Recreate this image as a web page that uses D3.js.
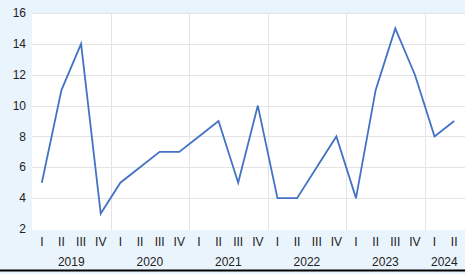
<!DOCTYPE html>
<html>
<head>
<meta charset="utf-8">
<script src="https://cdn.jsdelivr.net/npm/d3@7"></script>
<style>
	html, body { margin: 0; padding: 0; background: #eaf4fd; }
	svg { display: block; font-family: "Liberation Sans", Arial, sans-serif; }
	.grid line { stroke: #e4e4e4; stroke-width: 1; shape-rendering: crispEdges; }
	.lbl { fill: #222; font-size: 12px; }
</style>
</head>
<body>
<div id="chart"></div>
<script>
// data
const years = ["2019", "2020", "2021", "2022", "2023", "2024"];
const quarters = ["I", "II", "III", "IV"];
const values = [5, 11, 14, 3, 5, 6, 7, 7, 8, 9, 5, 10, 4, 4, 6, 8, 4, 11, 15, 12, 8, 9];
const yTicks = [2, 4, 6, 8, 10, 12, 14, 16];

// one category per quarter, 2024 only has two
const cats = values.map((v, i) => ({
	key: i,
	year: years[Math.floor(i / 4)],
	q: quarters[i % 4],
	v: v
}));

const W = 465, H = 274;
const plot = {left: 32, right: 465, top: 13, bottom: 230};

const svg = d3.select("#chart").append("svg")
	.attr("width", W)
	.attr("height", H);

const x = d3.scaleBand().domain(cats.map(d => d.key)).range([32, 464]);
const y = d3.scaleLinear().domain([2, 16]).range([229, 13]);

// white plot area
svg.append("rect")
	.attr("x", plot.left).attr("y", plot.top)
	.attr("width", plot.right - plot.left).attr("height", plot.bottom - plot.top)
	.attr("fill", "#fff");

const grid = svg.append("g").attr("class", "grid");
grid.selectAll("line.h").data(yTicks.slice(1)).enter().append("line")
	.attr("class", "h")
	.attr("x1", plot.left).attr("x2", plot.right)
	.attr("y1", d => Math.round(y(d)) + 0.5).attr("y2", d => Math.round(y(d)) + 0.5);

// year separators
const sep = cats.filter(d => d.q === "I" && d.key > 0);
grid.selectAll("line.v").data(sep).enter().append("line")
	.attr("class", "v")
	.attr("x1", d => Math.round(x(d.key)) + 0.5).attr("x2", d => Math.round(x(d.key)) + 0.5)
	.attr("y1", plot.top).attr("y2", plot.bottom);

// y labels
svg.selectAll("text.yl").data(yTicks).enter().append("text")
	.attr("class", "lbl yl")
	.attr("x", 26)
	.attr("y", d => y(d))
	.attr("dy", "0.35em")
	.attr("text-anchor", "end")
	.text(d => d);

// quarter labels
svg.selectAll("text.ql").data(cats).enter().append("text")
	.attr("class", "lbl ql")
	.attr("x", d => x(d.key) + x.bandwidth() / 2)
	.attr("y", 242)
	.attr("dy", "0.35em")
	.attr("text-anchor", "middle")
	.text(d => d.q);

// year labels centred on their quarters
const yearGroups = d3.groups(cats, d => d.year);
svg.selectAll("text.yr").data(yearGroups).enter().append("text")
	.attr("class", "lbl yr")
	.attr("x", d => (x(d[1][0].key) + x(d[1][d[1].length - 1].key) + x.bandwidth()) / 2)
	.attr("y", 262)
	.attr("dy", "0.35em")
	.attr("text-anchor", "middle")
	.text(d => d[0]);

// line
const line = d3.line()
	.x(d => x(d.key) + x.bandwidth() / 2)
	.y(d => y(d.v));
svg.append("path")
	.datum(cats)
	.attr("fill", "none")
	.attr("stroke", "#4472c4")
	.attr("stroke-width", 1.8)
	.attr("stroke-linejoin", "miter")
	.attr("d", line);

// bottom rule
svg.append("rect")
	.attr("x", 0).attr("y", 269.5)
	.attr("width", W).attr("height", 2)
	.attr("fill", "#000");
</script>
</body>
</html>
